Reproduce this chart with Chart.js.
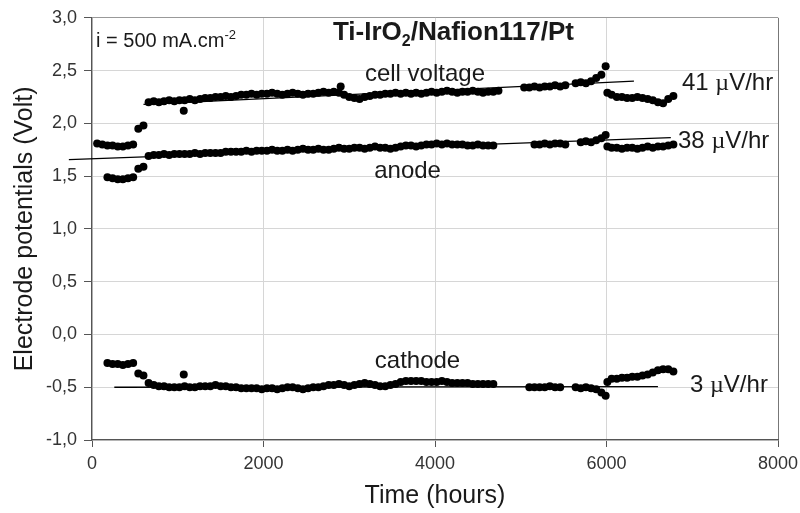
<!DOCTYPE html>
<html>
<head>
<meta charset="utf-8">
<script src="https://cdn.jsdelivr.net/npm/chart.js@4"></script>
<style>
  body { margin: 0; background: #fff; }
</style>
</head>
<body>
<canvas id="chart" width="800" height="513"></canvas>
<script>
// time axis shared by the three electrode series (hours)
const hours = [
  60, 120, 180, 240, 300, 360, 420, 480, 540, 600,
  660, 720, 780, 840, 900, 960, 1020, 1070, 1080, 1140,
  1200, 1260, 1320, 1380, 1440, 1500, 1560, 1620, 1680, 1740,
  1800, 1860, 1920, 1980, 2040, 2100, 2160, 2220, 2280, 2340,
  2400, 2460, 2520, 2580, 2640, 2700, 2760, 2820, 2880, 2900,
  2940, 3000, 3060, 3120, 3180, 3240, 3300, 3360, 3420, 3480,
  3540, 3600, 3660, 3720, 3780, 3840, 3900, 3960, 4020, 4080,
  4140, 4200, 4260, 4320, 4380, 4440, 4500, 4560, 4620, 4680,
  4740, 4800, 4860, 4920, 4980, 5040, 5100, 5160, 5220, 5280,
  5340, 5400, 5460, 5520, 5580, 5640, 5700, 5760, 5820, 5880,
  5940, 5990, 6010, 6060, 6120, 6180, 6240, 6300, 6360, 6420,
  6480, 6540, 6600, 6660, 6720, 6780
];

const cellVoltage = [
  1.81, 1.80, 1.79, 1.79, 1.78, 1.78, 1.79, 1.80, 1.95, 1.98,
  2.20, 2.21, 2.20, 2.21, 2.22, 2.21, 2.22, 2.12, 2.22, 2.23,
  2.22, 2.23, 2.24, 2.24, 2.25, 2.25, 2.26, 2.25, 2.26, 2.27,
  2.27, 2.28, 2.27, 2.28, 2.28, 2.29, 2.28, 2.27, 2.28, 2.29,
  2.28, 2.27, 2.28, 2.28, 2.29, 2.30, 2.29, 2.30, 2.29, 2.35,
  2.27, 2.25, 2.24, 2.23, 2.25, 2.26, 2.27, 2.27, 2.28, 2.28,
  2.29, 2.28, 2.29, 2.28, 2.29, 2.28, 2.29, 2.30, 2.29, 2.30,
  2.31, 2.30, 2.29, 2.30, 2.30, 2.31, 2.30, 2.29, 2.30, 2.30,
  2.31, null, null, null, null, 2.34, 2.34, 2.35, 2.34, 2.35,
  2.35, 2.36, 2.35, 2.36, null, 2.38, 2.39, 2.38, 2.40, 2.43,
  2.46, 2.54, 2.29, 2.27, 2.25, 2.25, 2.24, 2.24, 2.25, 2.24,
  2.23, 2.22, 2.20, 2.19, 2.23, 2.26
];

const anode = [
  null, null, 1.49, 1.48, 1.47, 1.47, 1.48, 1.49, 1.57, 1.59,
  1.69, 1.70, 1.70, 1.71, 1.70, 1.71, 1.71, null, 1.71, 1.71,
  1.72, 1.71, 1.72, 1.72, 1.72, 1.72, 1.73, 1.73, 1.73, 1.73,
  1.74, 1.73, 1.74, 1.74, 1.74, 1.75, 1.74, 1.74, 1.75, 1.74,
  1.75, 1.76, 1.75, 1.75, 1.76, 1.75, 1.75, 1.76, 1.77, null,
  1.76, 1.76, 1.77, 1.77, 1.76, 1.77, 1.78, 1.77, 1.77, 1.76,
  1.77, 1.78, 1.79, 1.79, 1.78, 1.79, 1.80, 1.80, 1.81, 1.80,
  1.81, 1.80, 1.80, 1.80, 1.79, 1.79, 1.80, 1.79, 1.79, 1.79,
  null, null, null, null, null, null, null, 1.80, 1.80, 1.81,
  1.80, 1.81, 1.81, 1.80, null, null, 1.82, 1.83, 1.82, 1.84,
  1.86, 1.89, 1.78, 1.77, 1.77, 1.76, 1.77, 1.77, 1.76, 1.77,
  1.78, 1.77, 1.78, 1.78, 1.79, 1.80
];

const cathode = [
  null, null, -0.27, -0.28, -0.28, -0.29, -0.28, -0.27, -0.37, -0.39,
  -0.46, -0.48, -0.49, -0.49, -0.50, -0.50, -0.50, -0.38, -0.49, -0.50,
  -0.50, -0.49, -0.49, -0.49, -0.48, -0.49, -0.49, -0.50, -0.50, -0.51,
  -0.51, -0.51, -0.51, -0.52, -0.51, -0.51, -0.52, -0.51, -0.50, -0.50,
  -0.51, -0.52, -0.51, -0.50, -0.50, -0.49, -0.48, -0.48, -0.47, null,
  -0.48, -0.49, -0.48, -0.47, -0.46, -0.47, -0.48, -0.49, -0.49, -0.48,
  -0.47, -0.45, -0.44, -0.44, -0.44, -0.44, -0.45, -0.45, -0.45, -0.44,
  -0.45, -0.46, -0.46, -0.46, -0.46, -0.47, -0.47, -0.47, -0.47, -0.47,
  null, null, null, null, null, null, -0.50, -0.50, -0.50, -0.50,
  -0.49, -0.50, -0.50, null, null, -0.50, -0.51, -0.50, -0.51, -0.52,
  -0.55, -0.58, -0.45, -0.42, -0.42, -0.41, -0.41, -0.40, -0.40, -0.39,
  -0.38, -0.36, -0.34, -0.33, -0.33, -0.35
];

// linear fits drawn over the data (end points, hours / volts)
const cellFitHours = [600, 6320];
const cellFitVolts = [2.18, 2.40];
const anodeFitHours = [-270, 6750];
const anodeFitVolts = [1.657, 1.865];
const cathodeFitHours = [260, 6600];
const cathodeFitVolts = [-0.50, -0.495];

const xTicks = [0, 2000, 4000, 6000, 8000];
const yTicks = [-1, -0.5, 0, 0.5, 1, 1.5, 2, 2.5, 3];

const FONT = 'Arial, "Liberation Sans", sans-serif';
const TEXT = '#1a1a1a';

function points(values) {
  return hours.map((h, i) => ({ x: h, y: values[i] })).filter(p => p.y !== null);
}

function fit(xs, ys) {
  return xs.map((x, i) => ({ x: x, y: ys[i] }));
}

const dots = {
  showLine: false,
  pointRadius: 4,
  pointHoverRadius: 4,
  pointBackgroundColor: '#000',
  pointBorderWidth: 0,
  order: 2
};

const fitLine = {
  showLine: true,
  pointRadius: 0,
  borderColor: '#000',
  borderWidth: 1.3,
  clip: false,
  order: 1
};

// text placed in data units, baseline at v
const f = (size, bold, family) => (bold ? 'bold ' : '') + size + 'px ' + (family || FONT);
const SERIF = '"Liberation Serif", "DejaVu Serif", serif';
const notes = [
  { h: 47, v: 2.726, align: 'left', runs: [['i = 500 mA.cm', f(20)], ['-2', f(13), -8]] },
  { h: 2810, v: 2.792, align: 'left', runs: [['Ti-IrO', f(26, true)], ['2', f(16, true), 6], ['/Nafion117/Pt', f(26, true)]] },
  { h: 3883, v: 2.404, align: 'center', runs: [['cell voltage', f(24)]] },
  { h: 3680, v: 1.478, align: 'center', runs: [['anode', f(24)]] },
  { h: 3796, v: -0.319, align: 'center', runs: [['cathode', f(24)]] },
  { h: 6880, v: 2.319, align: 'left', runs: [['41 ', f(24)], ['\u00b5', f(24, false, SERIF)], ['V/hr', f(24)]] },
  { h: 6834, v: 1.771, align: 'left', runs: [['38 ', f(24)], ['\u00b5', f(24, false, SERIF)], ['V/hr', f(24)]] },
  { h: 6974, v: -0.546, align: 'left', runs: [['3 ', f(24)], ['\u00b5', f(24, false, SERIF)], ['V/hr', f(24)]] }
];

const notesPlugin = {
  id: 'notes',
  afterDatasetsDraw(chart) {
    const ctx = chart.ctx;
    const xs = chart.scales.x, ys = chart.scales.y;
    ctx.save();
    ctx.fillStyle = TEXT;
    ctx.textBaseline = 'alphabetic';
    ctx.textAlign = 'left';
    notes.forEach(n => {
      let total = 0;
      n.runs.forEach(r => { ctx.font = r[1]; total += ctx.measureText(r[0]).width; });
      let x = xs.getPixelForValue(n.h);
      const y = ys.getPixelForValue(n.v);
      if (n.align === 'center') x -= total / 2;
      n.runs.forEach(r => {
        ctx.font = r[1];
        ctx.fillText(r[0], x, y + (r[2] || 0));
        x += ctx.measureText(r[0]).width;
      });
    });
    ctx.restore();
  }
};

new Chart(document.getElementById('chart'), {
  type: 'scatter',
  data: {
    datasets: [
      { label: 'cell voltage', data: points(cellVoltage), ...dots },
      { label: 'anode', data: points(anode), ...dots },
      { label: 'cathode', data: points(cathode), ...dots },
      { label: 'cell fit', data: fit(cellFitHours, cellFitVolts), ...fitLine },
      { label: 'anode fit', data: fit(anodeFitHours, anodeFitVolts), ...fitLine },
      { label: 'cathode fit', data: fit(cathodeFitHours, cathodeFitVolts), ...fitLine }
    ]
  },
  options: {
    responsive: false,
    animation: false,
    events: [],
    layout: { padding: { top: 16, right: 22, left: 0, bottom: 0 } },
    plugins: { legend: { display: false }, tooltip: { enabled: false } },
    scales: {
      x: {
        type: 'linear',
        min: 0,
        max: 8000,
        afterBuildTicks: s => { s.ticks = xTicks.map(v => ({ value: v })); },
        afterFit: s => { s.height = 73; s.paddingLeft = 0; s.paddingRight = 0; },
        ticks: {
          font: { family: FONT, size: 18 },
          color: '#333',
          padding: 6,
          maxRotation: 0,
          callback: v => String(v)
        },
        grid: {
          color: c => (c.tick && c.tick.value === 8000 ? '#777' : '#d6d6d6'),
          tickLength: 7,
          tickColor: '#555'
        },
        border: { color: '#555', width: 1.3 },
        title: {
          display: true,
          text: 'Time (hours)',
          font: { family: FONT, size: 25 },
          color: TEXT,
          padding: { top: 0, bottom: 2 }
        }
      },
      y: {
        min: -1,
        max: 3,
        afterBuildTicks: s => { s.ticks = yTicks.map(v => ({ value: v })); },
        afterFit: s => { s.width = 92; },
        ticks: {
          font: { family: FONT, size: 18 },
          color: '#333',
          padding: 7,
          callback: v => v.toFixed(1).replace('.', ',')
        },
        grid: {
          color: c => (c.tick && c.tick.value === 3 ? '#999' : '#d6d6d6'),
          tickLength: 8,
          tickColor: '#555'
        },
        border: { color: '#555', width: 1.3 },
        title: {
          display: true,
          text: 'Electrode potentials (Volt)',
          font: { family: FONT, size: 25 },
          color: TEXT,
          padding: { top: 10, bottom: 0 }
        }
      }
    }
  },
  plugins: [notesPlugin]
});
</script>
</body>
</html>
